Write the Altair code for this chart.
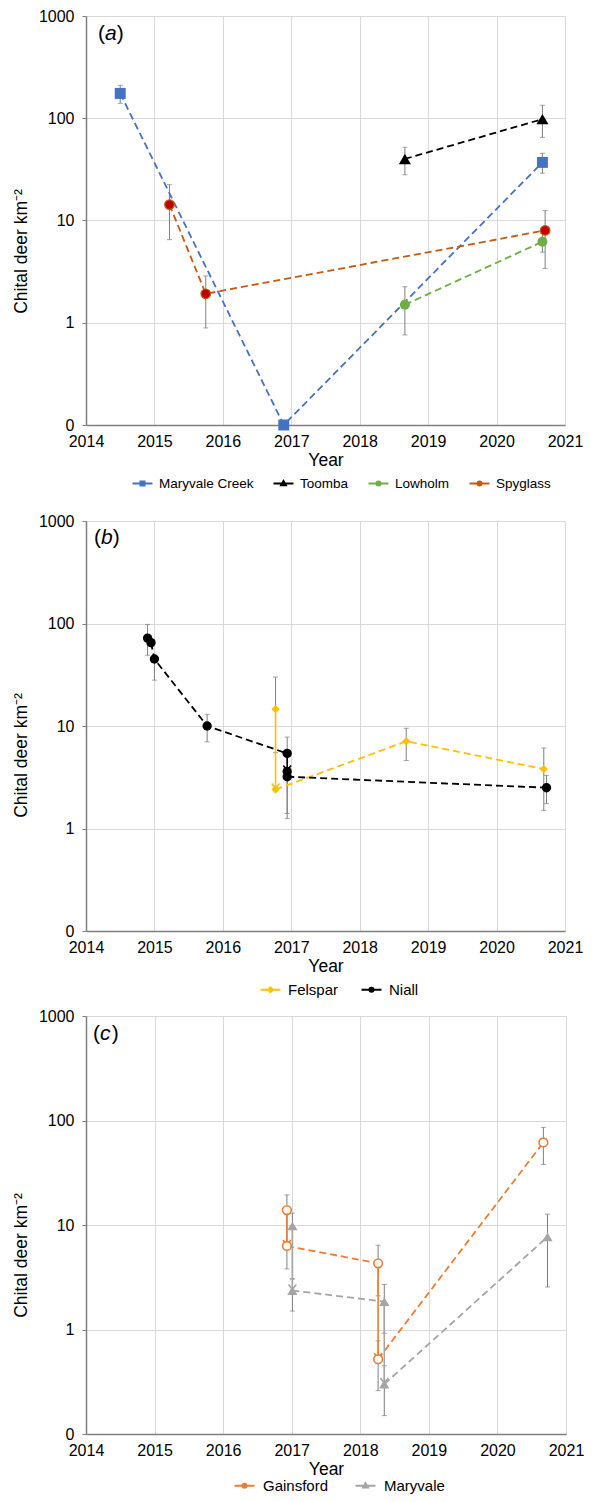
import altair as alt
import pandas as pd

FONT = "Liberation Sans"
Y_FLOOR = 0.1   # bottom of the log axis, labelled "0"

# ---------------- panel (a) ----------------
A_sites = ["Maryvale Creek", "Toomba", "Lowholm", "Spyglass"]
A_site = ["Maryvale Creek", "Maryvale Creek", "Maryvale Creek",
          "Toomba", "Toomba", "Lowholm", "Lowholm",
          "Spyglass", "Spyglass", "Spyglass"]
A_year = [2014.50, 2016.89, 2020.67, 2018.66, 2020.67, 2018.66, 2020.67,
          2015.22, 2015.75, 2020.71]
A_value = [175, 0, 37, 40, 98, 1.5, 6.2, 14.3, 1.92, 8.0]
A_run = [1, 1, 1, 1, 1, 1, 1, 1, 1, 1]

A_err_site = ["Maryvale Creek", "Maryvale Creek", "Toomba", "Toomba",
              "Lowholm", "Lowholm", "Spyglass", "Spyglass", "Spyglass"]
A_err_year = [2014.50, 2020.67, 2018.66, 2020.67, 2018.66, 2020.67,
              2015.22, 2015.75, 2020.71]
A_err_low = [140, 29, 28, 65, 0.76, 4.9, 6.5, 0.89, 3.4]
A_err_high = [210, 45.5, 52, 134, 2.25, 7.5, 22.4, 2.87, 12.5]

A_arr_site, A_arr_year, A_arr_from, A_arr_to = [], [], [], []

# ---------------- panel (b) ----------------
B_sites = ["Felspar", "Niall"]
B_site = ["Felspar"] * 4 + ["Niall"] * 8
B_year = [2016.77, 2016.77, 2018.68, 2020.69,
          2014.90, 2014.95, 2015.00, 2015.77, 2016.94, 2016.94, 2016.94, 2020.73]
B_value = [14.6, 2.4, 7.1, 3.8,
           72, 65, 45, 10, 5.4, 3.6, 3.2, 2.5]
B_run = [0, 1, 1, 1,
         0, 1, 1, 1, 1, 0, 2, 2]

B_err_site = ["Niall", "Niall", "Niall", "Felspar", "Niall", "Niall",
              "Felspar", "Felspar", "Niall"]
B_err_year = [2014.90, 2015.00, 2015.77, 2016.77, 2016.94, 2016.94,
              2018.68, 2020.69, 2020.73]
B_err_low = [49, 28, 7, 5.5, 1.4, 1.25, 4.6, 1.5, 1.75]
B_err_high = [98, 45, 13, 30, 7.8, 3.2, 9.5, 6.1, 3.3]

B_arr_site = ["Felspar", "Niall"]
B_arr_year = [2016.77, 2016.94]
B_arr_from = [14.6, 5.4]
B_arr_to = [2.4, 3.6]

# ---------------- panel (c) ----------------
C_sites = ["Gainsford", "Maryvale"]
C_site = ["Gainsford"] * 5 + ["Maryvale"] * 5
C_year = [2016.93, 2016.93, 2018.26, 2018.26, 2020.67,
          2017.01, 2017.01, 2018.35, 2018.35, 2020.73]
C_value = [13.9, 6.3, 4.3, 0.52, 61.6,
           9.8, 2.36, 1.85, 0.30, 7.7]
C_run = [0, 1, 1, 2, 2,
         0, 1, 1, 2, 2]

C_err_site = ["Gainsford", "Maryvale", "Maryvale", "Gainsford", "Gainsford",
              "Maryvale", "Maryvale", "Gainsford", "Maryvale"]
C_err_year = [2016.93, 2017.01, 2017.01, 2018.26, 2018.26,
              2018.35, 2018.35, 2020.67, 2020.73]
C_err_low = [3.8, 3.05, 1.5, 2.1, 0.26, 0.92, 0.15, 38, 2.55]
C_err_high = [19.4, 13, 3.05, 6.4, 0.78, 2.7, 0.45, 86, 12.7]

C_arr_site = ["Gainsford", "Gainsford", "Maryvale", "Maryvale"]
C_arr_year = [2016.93, 2018.26, 2017.01, 2018.35]
C_arr_from = [13.9, 4.3, 9.8, 1.85]
C_arr_to = [6.3, 0.52, 2.36, 0.30]

YEAR_TICKS = [2014, 2015, 2016, 2017, 2018, 2019, 2020, 2021]
Y_TICKS = [0.1, 1, 10, 100, 1000]

# ---------------- styles ----------------
ERR = "#7f7f7f"
COLOR = {"Maryvale Creek": "#4472C4", "Toomba": "#000000", "Lowholm": "#70AD47",
         "Spyglass": "#C55A11", "Felspar": "#FFC000", "Niall": "#000000",
         "Gainsford": "#ED7D31", "Maryvale": "#A5A5A5"}
POINT = {
    "Maryvale Creek": dict(shape="square", size=120, fill="#4472C4", stroke="#4472C4", strokeWidth=0),
    "Toomba": dict(shape="triangle-up", size=145, fill="#000000", stroke="#000000", strokeWidth=0),
    "Lowholm": dict(shape="circle", size=100, fill="#70AD47", stroke="#70AD47", strokeWidth=0),
    "Spyglass": dict(shape="circle", size=92, fill="#C00000", stroke="#C55A11", strokeWidth=1.2),
    "Felspar": dict(shape="diamond", size=70, fill="#FFC000", stroke="#FFC000", strokeWidth=0),
    "Niall": dict(shape="circle", size=88, fill="#000000", stroke="#000000", strokeWidth=0),
    "Gainsford": dict(shape="circle", size=75, fill="#ffffff", stroke="#ED7D31", strokeWidth=1.6),
    "Maryvale": dict(shape="triangle-up", size=105, fill="#A5A5A5", stroke="#A5A5A5", strokeWidth=0),
}
# legend glyphs: a short line with a small marker (symbol size 225 -> 1 unit = 7.5 px)
LEG_PATH = {
    "square": "M-1.33,0H1.33M-0.27,-0.27H0.27V0.27H-0.27Z",
    "triangle-up": "M-1.33,0H1.33M0,-0.32L0.32,0.24H-0.32Z",
    "circle": "M-1.33,0H1.33M0.27,0A0.27,0.27,0,1,1,-0.27,0A0.27,0.27,0,1,1,0.27,0Z",
    "diamond": "M-1.33,0H1.33M0,-0.32L0.32,0L0,0.32L-0.32,0Z",
}
LEG_FILL = {"Maryvale Creek": "#4472C4", "Toomba": "#000000", "Lowholm": "#70AD47",
            "Spyglass": "#C00000", "Felspar": "#FFC000", "Niall": "#000000",
            "Gainsford": "#ffffff", "Maryvale": "#A5A5A5"}
CHEVRON = "M-1,-1.3L0,0L1,-1.3"


def make_panel(sites, p_site, p_year, p_value, p_run,
               e_site, e_year, e_low, e_high,
               a_site, a_year, a_from, a_to,
               width, height, letter, lab_x, lab_y, title_y,
               leg_x, leg_y, leg_font, leg_pad, leg_offset):
    pts = pd.DataFrame({"site": p_site, "year": p_year, "value": p_value, "run": p_run})
    pts["v"] = pts["value"].clip(lower=Y_FLOOR)
    errs = pd.DataFrame({"site": e_site, "year": e_year, "lo": e_low, "hi": e_high})
    arrows = pd.DataFrame({"site": a_site, "year": a_year, "start": a_from, "end": a_to})

    xscale = alt.Scale(domain=[2014, 2021], nice=False, zero=False)
    yscale = alt.Scale(type="log", domain=[0.1, 1000], nice=False)
    xaxis = alt.Axis(values=YEAR_TICKS, format="d", title="Year", ticks=False,
                     labelPadding=8, titlePadding=2, labelFlush=False)
    yaxis = alt.Axis(values=Y_TICKS, title="Chital deer km\u207b\u00b2",
                     labelExpr="datum.value < 0.5 ? '0' : format(datum.value, 'd')",
                     tickSize=4, labelPadding=8, titlePadding=8, titleY=title_y)

    def X():
        return alt.X("year:Q", scale=xscale, axis=xaxis)

    def Y(f):
        return alt.Y(f + ":Q", scale=yscale, axis=yaxis)

    layers = [
        alt.Chart(errs).mark_rule(color=ERR, strokeWidth=1).encode(x=X(), y=Y("lo"), y2="hi:Q"),
        alt.Chart(errs).transform_fold(["lo", "hi"], as_=["end_", "yv"])
        .mark_tick(orient="horizontal", size=5, thickness=1, color=ERR)
        .encode(x=X(), y=Y("yv")),
    ]
    for s in sites:
        col = COLOR[s]
        sp = pts[(pts.site == s) & (pts.run > 0)]
        if len(sp):
            layers.append(alt.Chart(sp).mark_line(color=col, strokeDash=[7, 4], strokeWidth=1.8)
                          .encode(x=X(), y=Y("v"), detail="run:N", order="year:Q"))
        ar = arrows[arrows.site == s]
        if len(ar):
            layers.append(alt.Chart(ar).mark_rule(color=col, strokeWidth=1.6)
                          .encode(x=X(), y=Y("start"), y2="end:Q"))
            layers.append(alt.Chart(ar).mark_point(shape=CHEVRON, size=60, filled=False, stroke=col,
                                                   strokeWidth=1.6, opacity=1, yOffset=-1)
                          .encode(x=X(), y=Y("end")))
    for s in sites:
        layers.append(alt.Chart(pts[pts.site == s]).mark_point(filled=True, opacity=1, **POINT[s])
                      .encode(x=X(), y=Y("v")))

    leg = alt.Legend(orient="none", legendX=leg_x, legendY=leg_y, direction="horizontal", title=None,
                     labelFontSize=leg_font, labelFont=FONT, labelColor="#000000", symbolSize=225,
                     symbolStrokeWidth=2, columnPadding=leg_pad, labelOffset=leg_offset)
    layers.append(
        alt.Chart(pts).transform_filter("false")
        .mark_point(opacity=1, filled=False, strokeWidth=2)
        .encode(
            x=X(), y=Y("v"),
            stroke=alt.Stroke("site:N", scale=alt.Scale(domain=sites, range=[COLOR[s] for s in sites]), legend=leg),
            fill=alt.Fill("site:N", scale=alt.Scale(domain=sites, range=[LEG_FILL[s] for s in sites]), legend=leg),
            shape=alt.Shape("site:N", scale=alt.Scale(domain=sites, range=[LEG_PATH[POINT[s]["shape"]] for s in sites]), legend=leg),
        )
    )
    for txt, dx, style in [("(", 0, "normal"), (letter, 7, "italic"), (")", 18.7, "normal")]:
        layers.append(
            alt.Chart(pd.DataFrame({"t": [txt]})).mark_text(
                font=FONT, fontSize=21, fontStyle=style, align="left", baseline="middle", color="#000000")
            .encode(text="t:N", x=alt.value(lab_x + dx), y=alt.value(lab_y))
        )
    return alt.layer(*layers).properties(width=width, height=height)


pa = make_panel(A_sites, A_site, A_year, A_value, A_run,
                A_err_site, A_err_year, A_err_low, A_err_high,
                A_arr_site, A_arr_year, A_arr_from, A_arr_to,
                479, 409, "a", 12, 18, 235, 48, 459, 13.5, 15, 8)
pb = make_panel(B_sites, B_site, B_year, B_value, B_run,
                B_err_site, B_err_year, B_err_low, B_err_high,
                B_arr_site, B_arr_year, B_arr_from, B_arr_to,
                479, 410, "b", 8, 17, 234, 176, 460, 15, 18, 9)
pc = make_panel(C_sites, C_site, C_year, C_value, C_run,
                C_err_site, C_err_year, C_err_low, C_err_high,
                C_arr_site, C_arr_year, C_arr_from, C_arr_to,
                480, 418, "c", 7, 18, 239, 150, 461, 15, 22, 10)

ind = dict(stroke="independent", fill="independent", shape="independent")
top = alt.vconcat(pa, pb, spacing=23).resolve_scale(**ind)
chart = (
    alt.vconcat(top, pc, spacing=10).resolve_scale(**ind)
    .properties(padding={"left": 4, "top": 0, "right": 0, "bottom": 0})
    .configure_axis(labelFont=FONT, titleFont=FONT, labelFontSize=16, titleFontSize=17.5,
                    labelColor="#000000", titleColor="#000000", titleFontWeight="normal",
                    gridColor="#d9d9d9", gridWidth=1, domainColor="#7f7f7f", domainWidth=1.5,
                    tickColor="#7f7f7f")
    .configure_view(stroke=None)
)
chart.save("out.html", embed_options={"renderer": "svg", "actions": False})
